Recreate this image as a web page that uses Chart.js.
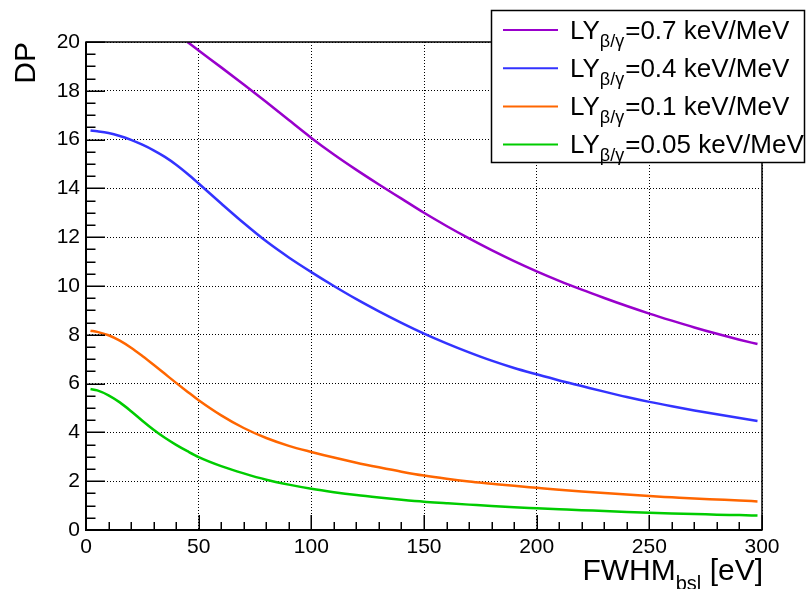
<!DOCTYPE html>
<html>
<head>
<meta charset="utf-8">
<script src="https://cdn.jsdelivr.net/npm/chart.js@4.4.1/dist/chart.umd.min.js"></script>
<style>
  html, body { margin: 0; padding: 0; background: #fff; }
  #wrap { width: 810px; height: 589px; }
</style>
</head>
<body>
<div id="wrap"><canvas id="dpChart" width="810" height="589"></canvas></div>
<script>
// FWHM_bsl [eV] sample points
const fwhm = [2, 5, 10, 15, 20, 25, 30, 35, 40, 45, 50, 60, 70, 80, 90, 100, 110, 120, 130, 140,
              150, 160, 170, 180, 190, 200, 210, 220, 230, 240, 250, 260, 270, 280, 290, 298];
const fwhmHigh = [45, 50, 60, 70, 80, 90, 100, 110, 120, 130, 140, 150, 160, 170, 180, 190, 200,
                  210, 220, 230, 240, 250, 260, 270, 280, 290, 298];

// DP values
const dp07 = [20.0, 19.65, 18.96, 18.26, 17.54, 16.8, 16.07, 15.39, 14.76, 14.16, 13.58, 13.0, 12.46,
              11.95, 11.47, 11.02, 10.6, 10.21, 9.85, 9.51, 9.18, 8.87, 8.58, 8.3, 8.04, 7.8, 7.62];
const dp04 = [16.37, 16.34, 16.27, 16.15, 15.99, 15.79, 15.56, 15.29, 14.97, 14.6, 14.2, 13.38, 12.58,
              11.83, 11.17, 10.57, 10.0, 9.46, 8.96, 8.49, 8.05, 7.65, 7.28, 6.94, 6.64, 6.38, 6.13,
              5.9, 5.67, 5.45, 5.25, 5.07, 4.9, 4.74, 4.59, 4.47];
const dp01 = [8.17, 8.12, 7.98, 7.76, 7.47, 7.13, 6.77, 6.4, 6.03, 5.67, 5.32, 4.7, 4.18, 3.77, 3.45,
              3.2, 2.97, 2.76, 2.57, 2.39, 2.23, 2.1, 1.99, 1.9, 1.81, 1.73, 1.65, 1.58, 1.52, 1.45,
              1.39, 1.34, 1.29, 1.25, 1.21, 1.17];
const dp005 = [5.78, 5.72, 5.52, 5.23, 4.87, 4.48, 4.11, 3.78, 3.49, 3.23, 2.99, 2.62, 2.32, 2.06, 1.86,
               1.69, 1.55, 1.43, 1.33, 1.24, 1.16, 1.1, 1.04, 0.98, 0.93, 0.89, 0.85, 0.81, 0.78, 0.74,
               0.71, 0.68, 0.66, 0.63, 0.61, 0.59];

const lyValues = ['0.7', '0.4', '0.1', '0.05'];
const lineColors = ['#9900cc', '#3333ff', '#ff6600', '#00cc00'];
const xTicks = [0, 50, 100, 150, 200, 250, 300];
const yTicks = [0, 2, 4, 6, 8, 10, 12, 14, 16, 18, 20];

const FONT = "'Liberation Sans', Arial, Helvetica, sans-serif";

function pts(xs, ys) {
    return xs.map((x, i) => ({ x: x, y: ys[i] }));
}

const series = [pts(fwhmHigh, dp07), pts(fwhm, dp04), pts(fwhm, dp01), pts(fwhm, dp005)];

// ROOT-like frame, inner ticks, legend and titles
const rootFrame = {
    id: 'rootFrame',
    afterDatasetsDraw(chart) {
        const { ctx, chartArea: a, scales: { x, y } } = chart;
        ctx.save();
        ctx.strokeStyle = '#000';
        ctx.lineWidth = 1.5;
        ctx.beginPath();
        for (let k = 0; k <= 40; k++) {
            const py = Math.round(y.getPixelForValue(k * 0.5)) + 0.25;
            const len = k % 4 === 0 ? 19 : 9.5;
            ctx.moveTo(a.left, py);
            ctx.lineTo(a.left + len, py);
        }
        for (let v = 0; v <= 300; v += 10) {
            const px = Math.round(x.getPixelForValue(v)) + 0.25;
            const len = v % 50 === 0 ? 15 : 8;
            ctx.moveTo(px, a.bottom);
            ctx.lineTo(px, a.bottom - len);
        }
        ctx.stroke();

        // frame
        ctx.lineWidth = 1.5;
        ctx.strokeRect(a.left, a.top, a.right - a.left, a.bottom - a.top);
        ctx.lineWidth = 2;
        ctx.beginPath();
        ctx.moveTo(a.left, a.top);
        ctx.lineTo(a.left, a.bottom);
        ctx.lineTo(a.right, a.bottom);
        ctx.stroke();
        ctx.restore();
    },
    afterDraw(chart) {
        const { ctx, chartArea: a } = chart;
        ctx.save();
        ctx.fillStyle = '#000';
        ctx.textBaseline = 'alphabetic';

        // y title
        ctx.save();
        ctx.translate(a.left - 51, a.top);
        ctx.rotate(-Math.PI / 2);
        ctx.textAlign = 'right';
        ctx.font = '30px ' + FONT;
        ctx.fillText('DP', 0, 0);
        ctx.restore();

        // x title, right aligned on the axis end
        ctx.textAlign = 'left';
        const big = '30px ' + FONT, small = '20px ' + FONT;
        ctx.font = big;
        const w1 = ctx.measureText('FWHM').width;
        const w3 = ctx.measureText(' [eV]').width;
        ctx.font = small;
        const w2 = ctx.measureText('bsl').width;
        const tx = a.right + 1 - (w1 + w2 + w3);
        const by = a.bottom + 50;
        ctx.font = big;
        ctx.fillText('FWHM', tx, by);
        ctx.font = small;
        ctx.fillText('bsl', tx + w1, by + 10);
        ctx.font = big;
        ctx.fillText(' [eV]', tx + w1 + w2, by);

        // legend box
        const lx = 491.5, ly = 10.5, lw = 313, lh = 152;
        ctx.fillStyle = '#fff';
        ctx.fillRect(lx, ly, lw, lh);
        ctx.strokeStyle = '#000';
        ctx.lineWidth = 1.5;
        ctx.strokeRect(lx, ly, lw, lh);

        chart.data.datasets.forEach((ds, i) => {
            const rowY = 30 + 38.2 * i;
            ctx.strokeStyle = ds.borderColor;
            ctx.lineWidth = 2;
            ctx.beginPath();
            ctx.moveTo(503, rowY);
            ctx.lineTo(558, rowY);
            ctx.stroke();

            const base = 38.5 + 38.2 * i;
            ctx.fillStyle = '#000';
            ctx.font = '26px ' + FONT;
            let px = 570;
            ctx.fillText('LY', px, base);
            px += ctx.measureText('LY').width;
            ctx.font = '18px ' + FONT;
            ctx.fillText('β/γ', px, base + 8);
            px += ctx.measureText('β/γ').width + 1;
            ctx.font = '26px ' + FONT;
            ctx.fillText('=' + ds.ly + ' keV/MeV', px, base);
        });
        ctx.restore();
    }
};

new Chart(document.getElementById('dpChart').getContext('2d'), {
    type: 'line',
    data: {
        datasets: series.map((d, i) => ({
            label: 'LYβ/γ=' + lyValues[i] + ' keV/MeV',
            ly: lyValues[i],
            data: d,
            borderColor: lineColors[i],
            backgroundColor: lineColors[i],
            borderWidth: 2.5,
            pointRadius: 0,
            fill: false,
            cubicInterpolationMode: 'monotone'
        }))
    },
    options: {
        responsive: false,
        animation: false,
        events: [],
        layout: { padding: { top: 42, right: 48, left: 0, bottom: 0 } },
        plugins: {
            legend: { display: false },
            tooltip: { enabled: false }
        },
        scales: {
            x: {
                type: 'linear',
                min: 0,
                max: 300,
                afterBuildTicks: (s) => { s.ticks = xTicks.map(v => ({ value: v })); },
                afterFit: (s) => { s.height = 59; },
                grid: { color: '#000', lineWidth: 1, drawTicks: false },
                border: { display: false, dash: [1, 2] },
                ticks: {
                    color: '#000',
                    padding: 5,
                    maxRotation: 0,
                    autoSkip: false,
                    font: { family: FONT, size: 21 }
                }
            },
            y: {
                type: 'linear',
                min: 0,
                max: 20,
                afterBuildTicks: (s) => { s.ticks = yTicks.map(v => ({ value: v })); },
                afterFit: (s) => { s.width = 86; },
                grid: { color: '#000', lineWidth: 1, drawTicks: false },
                border: { display: false, dash: [1, 2] },
                ticks: {
                    color: '#000',
                    padding: 6,
                    autoSkip: false,
                    font: { family: FONT, size: 21 }
                }
            }
        }
    },
    plugins: [rootFrame]
});
</script>
</body>
</html>
